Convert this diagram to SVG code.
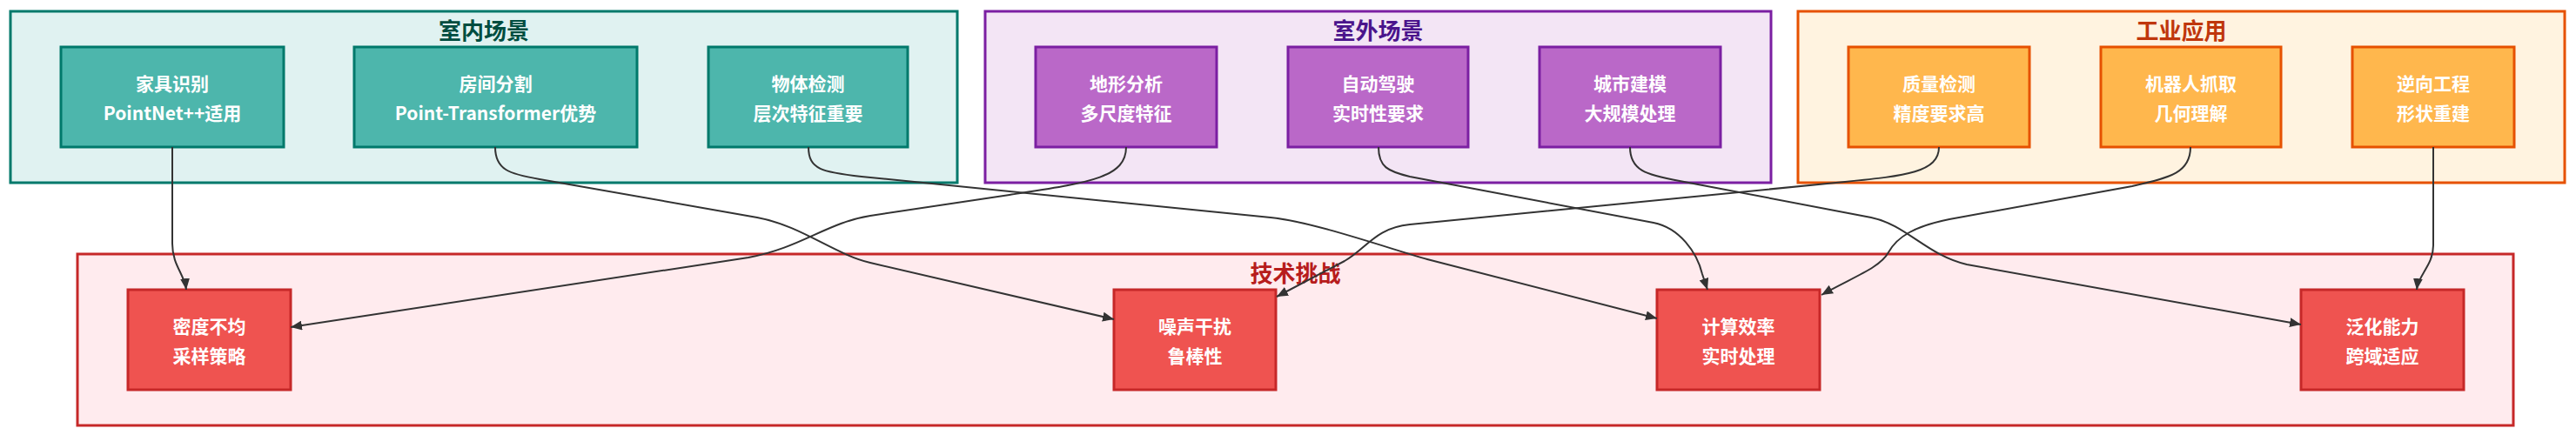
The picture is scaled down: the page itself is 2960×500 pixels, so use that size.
<svg xmlns="http://www.w3.org/2000/svg" width="2960" height="500" viewBox="0 0 2960 500">
<style>
text{font-family:"Noto Sans CJK SC","Noto Sans",sans-serif;font-weight:bold;text-anchor:middle;dominant-baseline:central}
.ct{font-size:26px}
.nt{font-size:21px;fill:#ffffff}
.cl{stroke-width:3}
.nd{stroke-width:3}
.in .cl{fill:#e0f2f1;stroke:#00796b}
.in .nd{fill:#4db6ac;stroke:#00796b}
.in .ct{fill:#004d40}
.out .cl{fill:#f3e5f5;stroke:#7b1fa2}
.out .nd{fill:#ba68c8;stroke:#7b1fa2}
.out .ct{fill:#4a148c}
.ind .cl{fill:#fff3e0;stroke:#e65100}
.ind .nd{fill:#ffb74d;stroke:#e65100}
.ind .ct{fill:#bf360c}
.ch .cl{fill:#ffebee;stroke:#c62828}
.ch .nd{fill:#ef5350;stroke:#c62828}
.ch .ct{fill:#b71c1c}
.e{fill:none;stroke:#333333;stroke-width:2;marker-end:url(#arr)}
</style>
<defs>
<marker id="arr" markerUnits="userSpaceOnUse" markerWidth="13" markerHeight="11" refX="13" refY="5.5" orient="auto">
<path d="M0,0 L13,5.5 L0,11 z" fill="#333333"/>
</marker>
</defs>
<rect width="2960" height="500" fill="#ffffff"/>

<g id="cluster-indoor" class="in">
<rect class="cl" x="12" y="13" width="1088" height="197"/>
<text class="ct" x="556" y="33">室内场景</text>
<g id="node-furniture"><rect class="nd" x="70" y="54" width="256" height="115"/><text class="nt" x="198" y="94.5">家具识别</text><text class="nt" x="198" y="128.5">PointNet++适用</text></g>
<g id="node-room"><rect class="nd" x="407" y="54" width="325" height="115"/><text class="nt" x="569.5" y="94.5">房间分割</text><text class="nt" x="569.5" y="128.5">Point-Transformer优势</text></g>
<g id="node-object"><rect class="nd" x="814" y="54" width="229" height="115"/><text class="nt" x="928.5" y="94.5">物体检测</text><text class="nt" x="928.5" y="128.5">层次特征重要</text></g>
</g>

<g id="cluster-outdoor" class="out">
<rect class="cl" x="1132" y="13" width="903" height="197"/>
<text class="ct" x="1583.5" y="33">室外场景</text>
<g id="node-terrain"><rect class="nd" x="1190" y="54" width="208" height="115"/><text class="nt" x="1294" y="94.5">地形分析</text><text class="nt" x="1294" y="128.5">多尺度特征</text></g>
<g id="node-driving"><rect class="nd" x="1480" y="54" width="207" height="115"/><text class="nt" x="1583.5" y="94.5">自动驾驶</text><text class="nt" x="1583.5" y="128.5">实时性要求</text></g>
<g id="node-city"><rect class="nd" x="1769" y="54" width="208" height="115"/><text class="nt" x="1873" y="94.5">城市建模</text><text class="nt" x="1873" y="128.5">大规模处理</text></g>
</g>

<g id="cluster-industry" class="ind">
<rect class="cl" x="2066" y="13" width="881" height="197"/>
<text class="ct" x="2506.5" y="33">工业应用</text>
<g id="node-quality"><rect class="nd" x="2124" y="54" width="208" height="115"/><text class="nt" x="2228" y="94.5">质量检测</text><text class="nt" x="2228" y="128.5">精度要求高</text></g>
<g id="node-robot"><rect class="nd" x="2414" y="54" width="207" height="115"/><text class="nt" x="2517.5" y="94.5">机器人抓取</text><text class="nt" x="2517.5" y="128.5">几何理解</text></g>
<g id="node-reverse"><rect class="nd" x="2703" y="54" width="186" height="115"/><text class="nt" x="2796" y="94.5">逆向工程</text><text class="nt" x="2796" y="128.5">形状重建</text></g>
</g>

<g id="cluster-challenge" class="ch">
<rect class="cl" x="89" y="292" width="2799" height="197"/>
<text class="ct" x="1488.5" y="312">技术挑战</text>
<g id="node-density"><rect class="nd" x="147" y="333" width="187" height="115"/><text class="nt" x="240.5" y="373.5">密度不均</text><text class="nt" x="240.5" y="407.5">采样策略</text></g>
<g id="node-noise"><rect class="nd" x="1280" y="333" width="186" height="115"/><text class="nt" x="1373" y="373.5">噪声干扰</text><text class="nt" x="1373" y="407.5">鲁棒性</text></g>
<g id="node-compute"><rect class="nd" x="1904" y="333" width="187" height="115"/><text class="nt" x="1997.5" y="373.5">计算效率</text><text class="nt" x="1997.5" y="407.5">实时处理</text></g>
<g id="node-general"><rect class="nd" x="2644" y="333" width="187" height="115"/><text class="nt" x="2737.5" y="373.5">泛化能力</text><text class="nt" x="2737.5" y="407.5">跨域适应</text></g>
</g>

<g id="connectors">
<path class="e" d="M198,169 L198,280 C198,305 212,315 214,333"/>
<path class="e" d="M1294,169 C1294,205 1250,210 1160,224 L1000,248 C950,256 920,285 860,296 L334,376"/>
<path class="e" d="M569,169 C569,195 585,200 620,206 L870,250 C920,259 960,293 1000,302 L1280,367"/>
<path class="e" d="M929,169 C929,195 945,198 990,203 L1460,250 C1510,255 1600,287 1640,298 L1904,366"/>
<path class="e" d="M1584,169 C1584,192 1595,197 1620,203 L1900,256 C1930,262 1950,290 1956,315 L1962,333"/>
<path class="e" d="M1873,169 C1873,195 1890,201 1930,208 L2150,250 C2190,258 2215,294 2260,304 L2644,373"/>
<path class="e" d="M2228,169 C2228,198 2190,202 2120,209 L1620,258 C1580,262 1570,286 1545,300 L1467,341"/>
<path class="e" d="M2517,169 C2517,198 2495,204 2450,214 L2240,252 C2200,260 2180,272 2170,290 S2130,318 2093,339"/>
<path class="e" d="M2796,169 L2796,282 C2796,305 2779,315 2777,333"/>
</g>
</svg>
